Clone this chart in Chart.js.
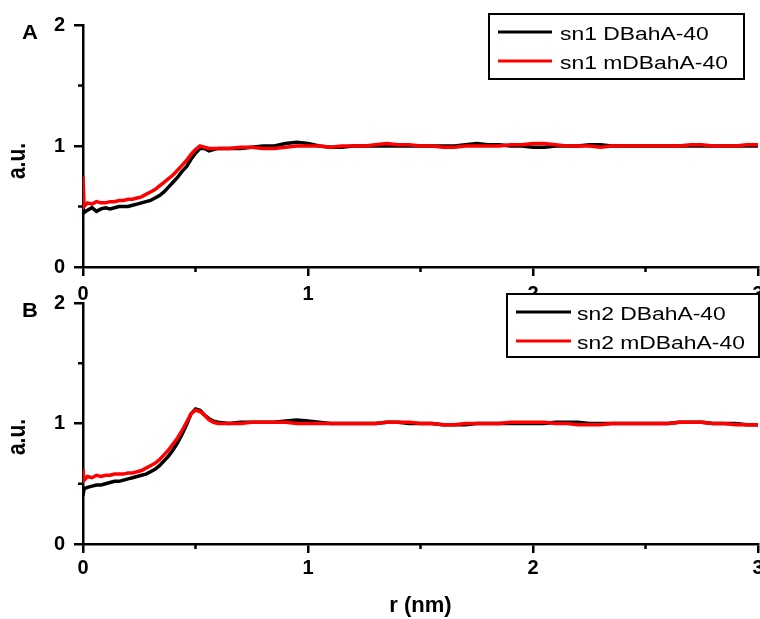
<!DOCTYPE html>
<html><head><meta charset="utf-8">
<script src="https://cdn.jsdelivr.net/npm/chart.js@4.4.1/dist/chart.umd.min.js"></script>
<style>
html,body{margin:0;padding:0;background:#fff;}
#wrap{position:relative;width:760px;height:619px;overflow:hidden;}
canvas{position:absolute;left:0;top:0;}
</style></head><body>
<div id="wrap"><canvas id="cA" width="760" height="619"></canvas><canvas id="cB" width="760" height="619"></canvas></div>
<script>
// r (nm)
const r = [0, 0.005, 0.02, 0.04, 0.06, 0.08, 0.10, 0.12, 0.14, 0.16, 0.18, 0.20, 0.22, 0.24, 0.26, 0.28, 0.30, 0.32, 0.34, 0.36, 0.38, 0.40, 0.42, 0.44, 0.46, 0.48, 0.50, 0.52, 0.54, 0.56, 0.58, 0.60,
  0.65, 0.70, 0.75, 0.80, 0.85, 0.90, 0.95, 1.00, 1.05, 1.10, 1.15, 1.20, 1.25, 1.30, 1.35, 1.40, 1.45, 1.50, 1.55, 1.60, 1.65, 1.70, 1.75, 1.80, 1.85, 1.90, 1.95, 2.00,
  2.05, 2.10, 2.15, 2.20, 2.25, 2.30, 2.35, 2.40, 2.45, 2.50, 2.55, 2.60, 2.65, 2.70, 2.75, 2.80, 2.85, 2.90, 2.95, 3.00];

// Panel A (sn1)
const sn1_DBahA40 = [0.50, 0.45, 0.47, 0.49, 0.46, 0.48, 0.49, 0.48, 0.49, 0.50, 0.50, 0.50, 0.51, 0.52, 0.53, 0.54, 0.55, 0.57, 0.59, 0.62, 0.66, 0.70, 0.74, 0.79, 0.83, 0.89, 0.94, 0.98, 0.98, 0.96, 0.97, 0.98,
  0.98, 0.98, 0.99, 1.00, 1.00, 1.02, 1.03, 1.02, 1.00, 0.99, 0.99, 1.00, 1.00, 1.00, 1.00, 1.00, 1.00, 1.00, 1.00, 1.00, 1.00, 1.01, 1.02, 1.01, 1.01, 1.00, 1.00, 0.99,
  0.99, 1.00, 1.00, 1.00, 1.01, 1.01, 1.00, 1.00, 1.00, 1.00, 1.00, 1.00, 1.00, 1.00, 1.00, 1.00, 1.00, 1.00, 1.00, 1.00];
const sn1_mDBahA40 = [0.75, 0.50, 0.53, 0.52, 0.54, 0.53, 0.53, 0.54, 0.54, 0.55, 0.55, 0.56, 0.56, 0.57, 0.58, 0.60, 0.62, 0.64, 0.67, 0.70, 0.73, 0.76, 0.80, 0.84, 0.88, 0.93, 0.97, 1.00, 0.99, 0.98, 0.98, 0.98,
  0.98, 0.99, 0.99, 0.98, 0.98, 0.99, 1.00, 1.00, 1.00, 0.99, 1.00, 1.00, 1.00, 1.01, 1.02, 1.01, 1.01, 1.00, 1.00, 0.99, 0.99, 1.00, 1.00, 1.00, 1.00, 1.01, 1.01, 1.02,
  1.02, 1.01, 1.00, 1.00, 1.00, 0.99, 1.00, 1.00, 1.00, 1.00, 1.00, 1.00, 1.00, 1.01, 1.01, 1.00, 1.00, 1.00, 1.01, 1.01];

// Panel B (sn2)
const sn2_DBahA40 = [0.40, 0.46, 0.47, 0.48, 0.49, 0.49, 0.50, 0.51, 0.52, 0.52, 0.53, 0.54, 0.55, 0.56, 0.57, 0.58, 0.60, 0.62, 0.65, 0.69, 0.73, 0.78, 0.84, 0.91, 0.99, 1.08, 1.12, 1.11, 1.07, 1.04, 1.02, 1.01,
  1.00, 1.01, 1.01, 1.01, 1.01, 1.02, 1.03, 1.02, 1.01, 1.00, 1.00, 1.00, 1.00, 1.00, 1.01, 1.01, 1.00, 1.00, 1.00, 0.99, 0.99, 0.99, 1.00, 1.00, 1.00, 1.00, 1.00, 1.00,
  1.00, 1.01, 1.01, 1.01, 1.00, 1.00, 1.00, 1.00, 1.00, 1.00, 1.00, 1.00, 1.01, 1.01, 1.01, 1.00, 1.00, 1.00, 0.99, 0.99];
const sn2_mDBahA40 = [0.62, 0.53, 0.56, 0.55, 0.57, 0.56, 0.57, 0.57, 0.58, 0.58, 0.58, 0.59, 0.59, 0.60, 0.61, 0.63, 0.65, 0.67, 0.70, 0.74, 0.78, 0.83, 0.88, 0.94, 1.01, 1.08, 1.11, 1.10, 1.07, 1.03, 1.01, 1.00,
  1.00, 1.00, 1.01, 1.01, 1.01, 1.01, 1.00, 1.00, 1.00, 1.00, 1.00, 1.00, 1.00, 1.00, 1.01, 1.01, 1.01, 1.00, 1.00, 0.99, 0.99, 1.00, 1.00, 1.00, 1.00, 1.01, 1.01, 1.01,
  1.01, 1.00, 1.00, 0.99, 0.99, 0.99, 1.00, 1.00, 1.00, 1.00, 1.00, 1.00, 1.01, 1.01, 1.01, 1.00, 1.00, 0.99, 0.99, 0.99];

const seriesLabelsA = ['sn1 DBahA-40', 'sn1 mDBahA-40'];
const seriesLabelsB = ['sn2 DBahA-40', 'sn2 mDBahA-40'];
const seriesColors = ['#000000', '#ff0000'];
const panelNames = ['A', 'B'];
const yTitle = 'a.u.';
const xTitle = 'r (nm)';
const xMinorTicks = [0.5, 1.5, 2.5];
const yMinorTicks = [0.5, 1.5];

const FONT = "'Liberation Sans', Arial, sans-serif";

function txt(ctx, s, x, y, font, sx, sy, align) {
  ctx.save();
  ctx.translate(x, y);
  ctx.scale(sx, sy);
  ctx.font = font;
  ctx.fillStyle = '#000';
  ctx.textAlign = align || 'left';
  ctx.textBaseline = 'alphabetic';
  ctx.fillText(s, 0, 0);
  ctx.restore();
}

const decor = {
  id: 'decor',
  afterDraw(chart, args, o) {
    const ctx = chart.ctx;
    const xs = chart.scales.x, ys = chart.scales.y;
    const ca = chart.chartArea;
    ctx.save();
    ctx.strokeStyle = '#000';
    ctx.lineWidth = 2.5;
    ctx.beginPath();
    xMinorTicks.forEach(v => { const p = xs.getPixelForValue(v); ctx.moveTo(p, ca.bottom); ctx.lineTo(p, ca.bottom + 5); });
    yMinorTicks.forEach(v => { const p = ys.getPixelForValue(v); ctx.moveTo(ca.left, p); ctx.lineTo(ca.left - 5, p); });
    ctx.stroke();
    ctx.restore();
    // panel label
    txt(ctx, o.panel, 22, o.panelY, 'bold 22px ' + FONT, 1.0, 0.9, 'left');
    // y title
    ctx.save();
    ctx.translate(25, o.yTitleY);
    ctx.rotate(-Math.PI / 2);
    ctx.scale(1, 1.25);
    ctx.font = 'bold 21px ' + FONT;
    ctx.fillStyle = '#000';
    ctx.textAlign = 'center';
    ctx.textBaseline = 'alphabetic';
    ctx.fillText(yTitle, 0, 0);
    ctx.restore();
    // legend
    const b = o.box;
    ctx.save();
    ctx.fillStyle = '#fff';
    ctx.fillRect(b.l, b.t, b.r - b.l, b.b - b.t);
    ctx.strokeStyle = '#000';
    ctx.lineWidth = 2;
    ctx.strokeRect(b.l, b.t, b.r - b.l, b.b - b.t);
    const ordered = chart.data.datasets.slice().sort((a, c) => a.legendIndex - c.legendIndex);
    ordered.forEach((ds, k) => {
      const ly = o.rowY[k];
      ctx.strokeStyle = ds.borderColor;
      ctx.lineWidth = 3;
      ctx.beginPath();
      ctx.moveTo(o.lineX[0], ly);
      ctx.lineTo(o.lineX[1], ly);
      ctx.stroke();
      txt(ctx, ds.label, o.textX, ly + 8, '22px ' + FONT, 1.04, 0.86, 'left');
    });
    ctx.restore();
  }
};

function makeChart(id, labels, black, red, cfg) {
  const mk = (vals) => r.map((x, i) => ({ x: x, y: vals[i] }));
  return new Chart(document.getElementById(id), {
    type: 'line',
    data: {
      datasets: [
        { label: labels[1], legendIndex: 1, data: mk(red), borderColor: seriesColors[1], borderWidth: 3.5, pointRadius: 0, tension: 0, order: 1 },
        { label: labels[0], legendIndex: 0, data: mk(black), borderColor: seriesColors[0], borderWidth: 3.5, pointRadius: 0, tension: 0, order: 2 }
      ]
    },
    options: {
      responsive: false,
      devicePixelRatio: 1,
      animation: false,
      layout: { padding: { left: 0, right: 2, top: cfg.top, bottom: cfg.padBottom } },
      plugins: { legend: { display: false }, tooltip: { enabled: false }, decor: cfg.decor },
      scales: {
        x: {
          type: 'linear', min: 0, max: 3,
          ticks: { stepSize: 1, color: '#000', padding: cfg.xPad, maxRotation: 0, autoSkip: false, font: { family: FONT, size: 20, weight: 'bold' } },
          grid: { drawOnChartArea: false, drawTicks: true, tickLength: 9, tickWidth: 2.5, lineWidth: 2.5, color: '#000' },
          border: { display: true, width: 2.5, color: '#000' },
          title: { display: cfg.showXTitle, text: xTitle, color: '#000', font: { family: FONT, size: 22, weight: 'bold' }, padding: { top: 0, bottom: 0 } },
          afterFit: s => { s.height = cfg.xH; s.paddingLeft = 0; s.paddingRight = 0; }
        },
        y: {
          type: 'linear', min: 0, max: 2,
          ticks: { stepSize: 1, color: '#000', padding: 9, font: { family: FONT, size: 20, weight: 'bold' } },
          grid: { drawOnChartArea: false, drawTicks: true, tickLength: 9, tickWidth: 2.5, lineWidth: 2.5, color: '#000' },
          border: { display: true, width: 2.5, color: '#000' },
          afterFit: s => { s.width = 83; s.paddingTop = 0; s.paddingBottom = 0; }
        }
      }
    },
    plugins: [decor]
  });
}

makeChart('cA', seriesLabelsA, sn1_DBahA40, sn1_mDBahA40, {
  top: 25, padBottom: 619 - 267 - 40, xH: 40, xPad: 6, showXTitle: false,
  decor: { panel: panelNames[0], panelY: 39, yTitleY: 161,
    box: { l: 489, t: 14, r: 744, b: 79 }, lineX: [498, 552], rowY: [32, 61], textX: 560 }
});
makeChart('cB', seriesLabelsB, sn2_DBahA40, sn2_mDBahA40, {
  top: 303, padBottom: 0, xH: 619 - 544, xPad: 3, showXTitle: true,
  decor: { panel: panelNames[1], panelY: 317, yTitleY: 437,
    box: { l: 507, t: 294, r: 759, b: 357 }, lineX: [516, 571], rowY: [312, 341], textX: 577 }
});
</script>
</body></html>
